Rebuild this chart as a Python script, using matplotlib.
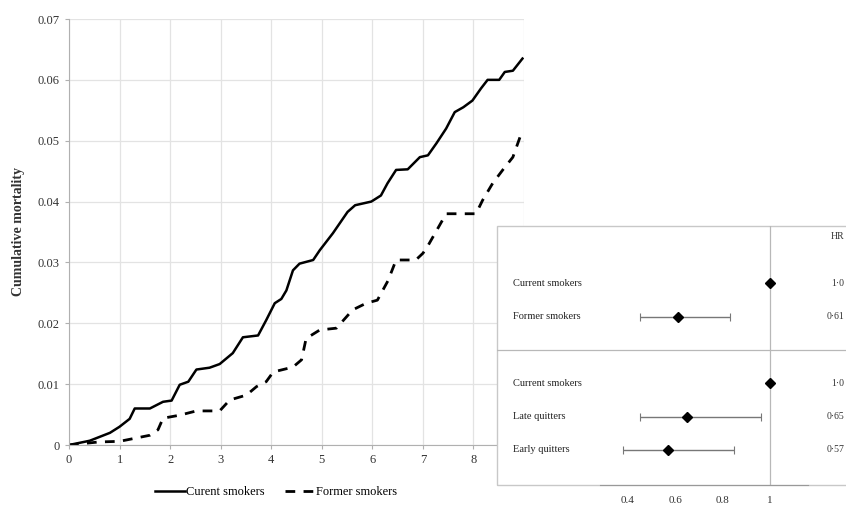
import matplotlib.pyplot as plt
from matplotlib.patches import Rectangle

plt.rcParams['font.family'] = ['Liberation Serif', 'DejaVu Serif']

# cumulative mortality curves (years, cumulative mortality)
current_t = [0, 0.41, 0.81, 1.0, 1.2, 1.3, 1.6, 1.86, 2.03, 2.19, 2.36, 2.52, 2.78, 2.98,
             3.24, 3.44, 3.74, 3.9, 4.07, 4.2, 4.3, 4.43, 4.56, 4.83, 4.96, 5.22, 5.51,
             5.66, 5.98, 6.17, 6.3, 6.47, 6.7, 6.94, 7.1, 7.27, 7.46, 7.63, 7.8, 7.98,
             8.15, 8.28, 8.51, 8.62, 8.78, 8.97]
current_cm = [0, 0.0007, 0.002, 0.003, 0.0043, 0.006, 0.006, 0.0071, 0.0073, 0.0099,
              0.0104, 0.0124, 0.0127, 0.0133, 0.0151, 0.0177, 0.018, 0.0205, 0.0233,
              0.024, 0.0254, 0.0287, 0.0298, 0.0304, 0.032, 0.0348, 0.0383, 0.0394,
              0.04, 0.041, 0.043, 0.0452, 0.0453, 0.0473, 0.0476, 0.0496, 0.052, 0.0547,
              0.0555, 0.0566, 0.0586, 0.06, 0.06, 0.0613, 0.0615, 0.0635]
former_t = [0, 0.59, 1.0, 1.6, 1.76, 1.86, 2.19, 2.52, 2.98, 3.18, 3.51, 3.71, 3.9, 4.04,
            4.43, 4.6, 4.69, 4.96, 5.29, 5.61, 5.88, 6.1, 6.31, 6.47, 6.86, 7.0, 7.09,
            7.46, 8.05, 8.18, 8.38, 8.58, 8.78, 8.96]
former_cm = [0, 0.0005, 0.0006, 0.0016, 0.0025, 0.0044, 0.0049, 0.0056, 0.0056, 0.0074,
             0.0082, 0.0096, 0.0104, 0.012, 0.0128, 0.014, 0.0175, 0.0189, 0.0192,
             0.0222, 0.0233, 0.0238, 0.027, 0.0304, 0.0304, 0.0315, 0.0326, 0.038,
             0.038, 0.0402, 0.043, 0.0452, 0.0473, 0.0515]

x_ticks = [0, 1, 2, 3, 4, 5, 6, 7, 8, 9]
y_ticks = [0, 0.01, 0.02, 0.03, 0.04, 0.05, 0.06, 0.07]
y_labels = ['0', '0.01', '0.02', '0.03', '0.04', '0.05', '0.06', '0.07']

# forest plot (hazard ratios)
groups = ['Current smokers', 'Former smokers', 'Current smokers', 'Late quitters', 'Early quitters']
group_rows = [1, 2, 4, 5, 6]
hr = [1.0, 0.61, 1.0, 0.65, 0.57]
hr_lo = [None, 0.45, None, 0.45, 0.38]
hr_hi = [None, 0.83, None, 0.96, 0.85]
hr_text = ['1·0', '0·61', '1·0', '0·65', '0·57']
hr_ticks = [0.4, 0.6, 0.8, 1]
hr_ticklabels = ['0.4', '0.6', '0.8', '1']

fig = plt.figure(figsize=(8.46, 5.08), dpi=100)
W, H = 846, 508

ax = fig.add_axes([69 / W, 63 / H, 455 / W, 426 / H])
ax.plot(current_t, current_cm, color='black', lw=1.8, label='Curent smokers')
ax.plot(former_t, former_cm, color='black', lw=2.0, ls=(0, (3.5, 3)), label='Former smokers')
ax.set_xlim(0, 9)
ax.set_ylim(0, 0.07)
ax.set_xticks(x_ticks)
ax.set_yticks(y_ticks)
ax.set_yticklabels(y_labels)
ax.grid(True, color='#e3e3e3', lw=0.9)
for s in ['top', 'right']:
    ax.spines[s].set_visible(False)
for s in ['left', 'bottom']:
    ax.spines[s].set_color('#b0b0b0')
ax.tick_params(labelsize=9, colors='#b0b0b0', length=3, labelcolor='#333333')
ax.set_ylabel('Cumulative mortality', fontsize=10, fontweight='bold', labelpad=9, color='#333333')

fig.legend(loc='center', bbox_to_anchor=(276 / W, 1 - 492 / H), ncol=2, frameon=False,
           fontsize=9, handlelength=2.4, columnspacing=1.6, handletextpad=0.1)

# inset forest plot
ix0, ix1 = 497, 900
iy0, iy1 = 226, 485
px_per_unit = 236.7
ax2 = fig.add_axes([ix0 / W, 1 - iy1 / H, (ix1 - ix0) / W, (iy1 - iy0) / H])
ax2.set_xlim(1 - (770 - ix0) / px_per_unit, 1 + (ix1 - 770) / px_per_unit)
ax2.set_ylim(7.05, -0.72)
ax2.patch.set_facecolor('white')
for s in ['top', 'right', 'left']:
    ax2.spines[s].set_visible(False)
ax2.spines['bottom'].set_bounds(0.28, 1.16)
ax2.spines['bottom'].set_color('#999999')
ax2.add_patch(Rectangle((0, 0), 1, 1, transform=ax2.transAxes, fill=False,
                        ec='#c8c8c8', lw=1.0, clip_on=False))
ax2.set_yticks([])
ax2.set_xticks(hr_ticks)
ax2.set_xticklabels(hr_ticklabels)
ax2.tick_params(axis='x', length=0, pad=8, labelsize=8, labelcolor='#333333')
ax2.axvline(1, color='#b8b8b8', lw=0.9)
ax2.axhline(3, color='#b8b8b8', lw=0.9)

for row, name, h, lo, hi, txt in zip(group_rows, groups, hr, hr_lo, hr_hi, hr_text):
    if lo is not None:
        ax2.errorbar(h, row, xerr=[[h - lo], [hi - h]], fmt='none', ecolor='#777777',
                     elinewidth=1.0, capsize=3, capthick=0.8)
    ax2.plot(h, row, marker='D', color='black', ms=5.5, ls='none')
    ax2.text(16 / (ix1 - ix0), row, name, transform=ax2.get_yaxis_transform(),
             fontsize=7.5, va='center', ha='left', color='#222222')
    ax2.text((844 - ix0) / (ix1 - ix0), row, txt, transform=ax2.get_yaxis_transform(),
             fontsize=7, va='center', ha='right', color='#333333')
ax2.text((844 - ix0) / (ix1 - ix0), -0.4, 'HR', transform=ax2.get_yaxis_transform(),
         fontsize=7, va='center', ha='right', color='#333333')

fig.savefig('out.png', dpi=100)
